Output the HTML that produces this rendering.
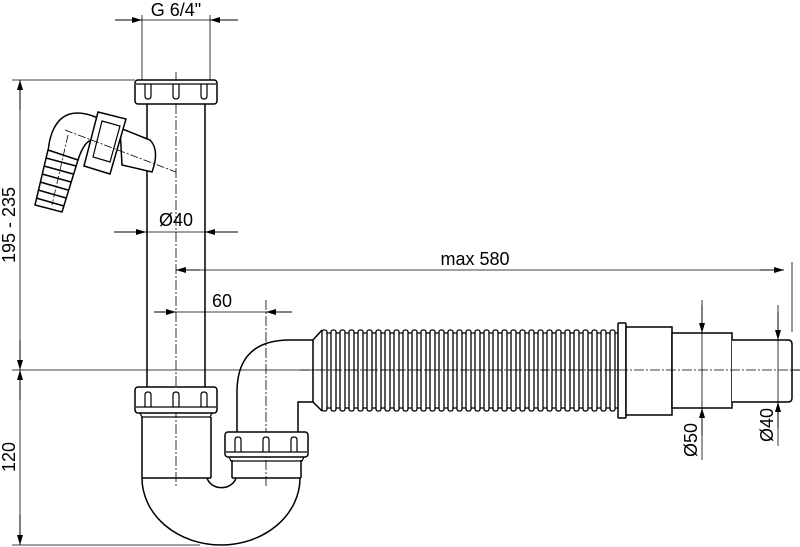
<!DOCTYPE html>
<html><head><meta charset="utf-8"><style>
html,body{margin:0;padding:0;background:#fff;}
svg{display:block;}
text{font-family:"Liberation Sans",Arial,sans-serif;font-size:18px;fill:#000;}
</style></head><body>
<svg width="800" height="547" viewBox="0 0 800 547" xmlns="http://www.w3.org/2000/svg">
<defs>
<marker id="a" viewBox="0 0 10 6" refX="10" refY="3" markerWidth="10" markerHeight="6" markerUnits="userSpaceOnUse" orient="auto"><path d="M0,0 L10,3 L0,6 z" fill="#000"/></marker>
<rect id="r" x="0" y="330" width="5" height="81" rx="2" fill="#fff" stroke="#000" stroke-width="1.3"/>
</defs>
<g stroke="#000" fill="none" stroke-width="1">
<line x1="12" y1="370" x2="800" y2="370" stroke-width="0.8"/>
<line x1="12" y1="80" x2="135" y2="80" stroke-width="0.8"/>
<line x1="12" y1="545" x2="200" y2="545" stroke-width="0.8"/>
<line x1="20" y1="80" x2="20" y2="545" stroke-width="0.8"/>
<line x1="20" y1="110" x2="20" y2="80" marker-end="url(#a)"/>
<line x1="20" y1="340" x2="20" y2="370" marker-end="url(#a)"/>
<line x1="20" y1="400" x2="20" y2="370" marker-end="url(#a)"/>
<line x1="20" y1="515" x2="20" y2="545" marker-end="url(#a)"/>
<line x1="142" y1="15" x2="142" y2="80" stroke-width="0.8"/>
<line x1="210" y1="15" x2="210" y2="80" stroke-width="0.8"/>
<line x1="115" y1="20" x2="142" y2="20" marker-end="url(#a)"/>
<line x1="238" y1="20" x2="210" y2="20" marker-end="url(#a)"/>
<line x1="142" y1="20" x2="210" y2="20" stroke-width="0.8"/>
<line x1="114" y1="232" x2="146" y2="232" marker-end="url(#a)"/>
<line x1="238" y1="232" x2="205" y2="232" marker-end="url(#a)"/>
<line x1="146" y1="232" x2="205" y2="232" stroke-width="0.8"/>
<line x1="176" y1="270" x2="783" y2="270" stroke-width="0.8"/>
<line x1="200" y1="270" x2="176" y2="270" marker-end="url(#a)"/>
<line x1="760" y1="270" x2="784" y2="270" marker-end="url(#a)"/>
<line x1="792" y1="262" x2="792" y2="332" stroke-width="0.8"/>
<line x1="155" y1="312" x2="290" y2="312" stroke-width="0.8"/>
<line x1="154" y1="312" x2="176" y2="312" marker-end="url(#a)"/>
<line x1="292" y1="312" x2="266" y2="312" marker-end="url(#a)"/>
<line x1="176" y1="72" x2="176" y2="487" stroke-width="0.8" stroke-dasharray="10,2,2,2"/>
<line x1="266" y1="300" x2="266" y2="487" stroke-width="0.8" stroke-dasharray="10,2,2,2"/>

<line x1="147" y1="104" x2="147" y2="387" stroke-width="1.5"/>
<line x1="205" y1="104" x2="205" y2="387" stroke-width="1.5"/>
<rect x="135" y="80" width="82" height="24" rx="3" stroke-width="1.5" fill="#fff"/>
<path d="M145,84 v12 q0,3 3,3 q3,0 3,-3 v-12 M173,84 v12 q0,3 3,3 q3,0 3,-3 v-12 M201,84 v12 q0,3 3,3 q3,0 3,-3 v-12 M136,84 h80" stroke-width="1.2"/>
<rect x="135" y="387" width="82" height="26" rx="3" stroke-width="1.5" fill="#fff"/>
<path d="M145,407 v-12 q0,-3 3,-3 q3,0 3,3 v12 M173,407 v-12 q0,-3 3,-3 q3,0 3,3 v12 M201,407 v-12 q0,-3 3,-3 q3,0 3,3 v12 M136,407 h80" stroke-width="1.2"/>
<path d="M140,413 l2,4 h68 l2,-4" stroke-width="1.2"/>
<path d="M142,417 V478 M211,417 V478 M142,478 H211" stroke-width="1.5"/>
<path d="M142,478 A79,67 0 0 0 300,478" stroke-width="1.5"/>
<path d="M207,478 A15,13 0 0 0 236,478" stroke-width="1.5"/>
<path d="M232,460 V478 M301,460 V478 M232,478 H301" stroke-width="1.5"/>
<rect x="225" y="432" width="83" height="25" rx="3" stroke-width="1.5" fill="#fff"/>
<path d="M235,452 v-12 q0,-3 3,-3 q3,0 3,3 v12 M263,452 v-12 q0,-3 3,-3 q3,0 3,3 v12 M291,452 v-12 q0,-3 3,-3 q3,0 3,3 v12 M226,452 h81" stroke-width="1.2"/>
<path d="M229,457 l2,4 h71 l2,-4" stroke-width="1.2"/>
<path d="M237,432 V392 Q237,340 290,340 H313 M298,432 V402 H313" stroke-width="1.5"/>
<path d="M313,340 L322,330 M313,402 L322,411 M313,340 V402" stroke-width="1.5"/>
<path d="M322,333 H618 M322,408 H618" stroke-width="1.3"/>
</g>
<g>
<use href="#r" x="322"/><use href="#r" x="331"/><use href="#r" x="340"/><use href="#r" x="349"/><use href="#r" x="358"/><use href="#r" x="367"/><use href="#r" x="376"/><use href="#r" x="385"/><use href="#r" x="394"/><use href="#r" x="403"/><use href="#r" x="412"/><use href="#r" x="421"/><use href="#r" x="430"/><use href="#r" x="439"/><use href="#r" x="448"/><use href="#r" x="457"/><use href="#r" x="466"/><use href="#r" x="475"/><use href="#r" x="484"/><use href="#r" x="493"/><use href="#r" x="502"/><use href="#r" x="511"/><use href="#r" x="520"/><use href="#r" x="529"/><use href="#r" x="538"/><use href="#r" x="547"/><use href="#r" x="556"/><use href="#r" x="565"/><use href="#r" x="574"/><use href="#r" x="583"/><use href="#r" x="592"/><use href="#r" x="601"/><use href="#r" x="610"/>
</g>
<g stroke="#000" fill="none" stroke-width="1">
<line x1="300" y1="370" x2="800" y2="370" stroke-width="0.8" stroke-dasharray="10,2,2,2"/>
<rect x="618" y="323" width="8" height="95" rx="1" stroke-width="1.5" fill="#fff"/>
<rect x="626" y="327" width="46" height="88" stroke-width="1.5" fill="#fff"/>
<rect x="672" y="333" width="60" height="75" stroke-width="1.5" fill="#fff"/>
<path d="M732,340 H788 Q792,340 792,344 V398 Q792,402 788,402 H732" stroke-width="1.5" fill="#fff"/>
<line x1="618" y1="370" x2="800" y2="370" stroke-width="0.8" stroke-dasharray="10,2,2,2"/>
<line x1="702" y1="300" x2="702" y2="460" stroke-width="0.8"/>
<line x1="702" y1="305" x2="702" y2="333" marker-end="url(#a)"/>
<line x1="702" y1="435" x2="702" y2="408" marker-end="url(#a)"/>
<line x1="778" y1="305" x2="778" y2="446" stroke-width="0.8"/>
<line x1="778" y1="312" x2="778" y2="340" marker-end="url(#a)"/>
<line x1="778" y1="428" x2="778" y2="402" marker-end="url(#a)"/>

<g stroke-width="1.5" fill="#fff">
<path d="M120,128 L150,140 Q160,150 152,172 L122,165 z"/>
<path d="M98,118 Q75,108 62,118 Q50,128 48,152 L78,160 Q85,138 95,140 z"/>
<path d="M48,150 L78,160 L62,212 L35,205 z"/>
<path d="M46,158 L76,166 M44,166 L73,174 M42,174 L71,182 M40,182 L68,190 M38,190 L66,198 M36,198 L64,206"/>
<path d="M98,112 L126,119 L110,174 L84,166 z"/>
<path d="M102,121 L120,126 L110,162 L93,157 z" stroke-width="1.2"/>
</g>
<line x1="65" y1="130" x2="176" y2="172" stroke-width="0.8" stroke-dasharray="8,2,2,2"/>
<line x1="68" y1="135" x2="52" y2="205" stroke-width="0.8" stroke-dasharray="8,2,2,2"/>
</g>
<text x="176" y="16" text-anchor="middle">G 6/4"</text>
<text x="176" y="226" text-anchor="middle">Ø40</text>
<text x="475" y="265" text-anchor="middle">max 580</text>
<text x="222" y="307" text-anchor="middle">60</text>
<text transform="translate(15,225) rotate(-90)" text-anchor="middle">195 - 235</text>
<text transform="translate(15,457) rotate(-90)" text-anchor="middle">120</text>
<text transform="translate(697,440) rotate(-90)" text-anchor="middle">Ø50</text>
<text transform="translate(773,425) rotate(-90)" text-anchor="middle">Ø40</text>
</svg>
</body></html>
